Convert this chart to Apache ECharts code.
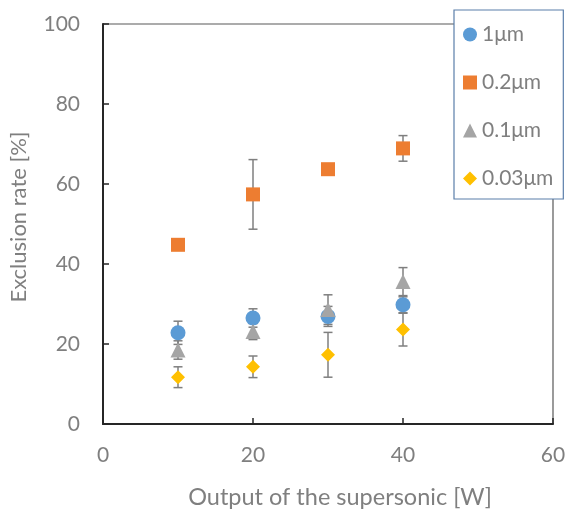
<!DOCTYPE html>
<html><head><meta charset="utf-8">
<script src="https://cdn.jsdelivr.net/npm/echarts@6/dist/echarts.min.js"></script>
<style>html,body{margin:0;padding:0;background:#fff}#c{width:567px;height:512px}</style>
</head><body><div id="c"></div>
<script>
const xValues = [10, 20, 30, 40];
const names = ['1μm', '0.2μm', '0.1μm', '0.03μm'];
const val1 = [22.8, 26.5, 26.9, 29.8];
const err1 = [2.9, 2.3, 2.5, 2.0];
const val2 = [44.8, 57.4, 63.7, 68.9];
const err2 = [0.5, 8.7, 0.8, 3.2];
const val3 = [18.5, 23.1, 28.6, 35.6];
const err3 = [2.3, 2.0, 3.7, 3.5];
const val4 = [11.7, 14.3, 17.3, 23.6];
const err4 = [2.6, 2.7, 5.6, 4.1];

const colors = ['#5B9BD5', '#ED7D31', '#A5A5A5', '#FFC000'];
const symbols = ['circle', 'rect', 'triangle', 'diamond'];
const vals = [val1, val2, val3, val4];
const errs = [err1, err2, err3, err4];
const sizes = [15, 14, 15, 14];

const series = [];
vals.forEach((v, i) => {
  series.push({
    type: 'custom', name: 'err' + i, z: 1, silent: true,
    data: xValues.map((x, k) => [x, v[k], errs[i][k]]),
    renderItem: function (params, api) {
      const x = api.value(0), y = api.value(1), e = api.value(2);
      const t = api.coord([x, y + e]), b = api.coord([x, y - e]);
      const hw = 4.5;
      const st = {stroke: '#7F7F7F', lineWidth: 1.5};
      return {type: 'group', children: [
        {type: 'line', shape: {x1: t[0], y1: t[1], x2: b[0], y2: b[1]}, style: st},
        {type: 'line', shape: {x1: t[0] - hw, y1: t[1], x2: t[0] + hw, y2: t[1]}, style: st},
        {type: 'line', shape: {x1: b[0] - hw, y1: b[1], x2: b[0] + hw, y2: b[1]}, style: st}
      ]};
    }
  });
});
vals.forEach((v, i) => {
  series.push({
    type: 'scatter', name: names[i], z: 2 + i, symbol: symbols[i], symbolSize: sizes[i],
    itemStyle: {color: colors[i], opacity: 1},
    data: xValues.map((x, k) => [x, v[k]])
  });
});

const font = 'Lato, "Open Sans", sans-serif';
const chart = echarts.init(document.getElementById('c'));
chart.setOption({
  animation: false,
  grid: {left: 103, right: 14, top: 24, bottom: 88, show: true, borderColor: '#595959', borderWidth: 1.2,
         containLabel: false, outerBoundsMode: 'none'},
  xAxis: {
    type: 'value', min: 0, max: 60, interval: 20,
    name: 'Output of the supersonic [W]', nameLocation: 'middle', nameGap: 61,
    nameTextStyle: {color: '#7F7F7F', fontSize: 23.5, fontFamily: font, padding: [0, 0, 0, 24]},
    axisLine: {show: true, lineStyle: {color: '#262626', width: 2}},
    axisTick: {show: true, inside: true, length: 6, lineStyle: {color: '#262626', width: 1.5}},
    axisLabel: {color: '#7F7F7F', fontSize: 21, fontFamily: font, margin: 21},
    splitLine: {show: false}
  },
  yAxis: {
    type: 'value', min: 0, max: 100, interval: 20,
    name: 'Exclusion rate [%]', nameLocation: 'middle', nameGap: 73,
    nameTextStyle: {color: '#7F7F7F', fontSize: 22, fontFamily: font, padding: [0, 0, 0, 14]},
    axisLine: {show: true, lineStyle: {color: '#262626', width: 2}},
    axisTick: {show: true, inside: true, length: 6, lineStyle: {color: '#262626', width: 1.5}},
    axisLabel: {color: '#7F7F7F', fontSize: 21, fontFamily: font, margin: 23},
    splitLine: {show: false}
  },
  legend: {
    data: names, orient: 'vertical', left: 454, top: 10,
    backgroundColor: '#fff', borderColor: '#5B7FAA', borderWidth: 1.2,
    padding: [14, 10, 10, 9], itemGap: 27, itemWidth: 14, itemHeight: 14,
    textStyle: {color: '#7F7F7F', fontSize: 21, fontFamily: font}
  },
  series: series
});
</script></body></html>
